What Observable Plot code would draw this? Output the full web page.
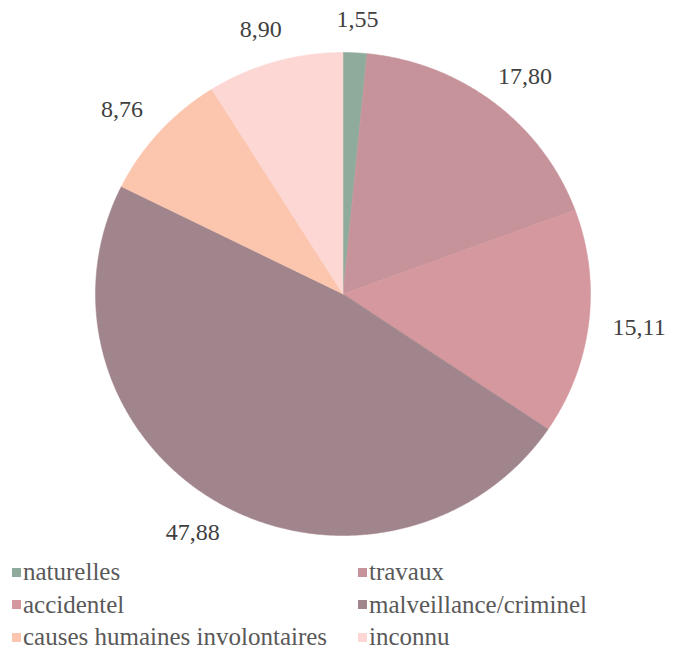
<!DOCTYPE html>
<html>
<head>
<meta charset="utf-8">
<script src="https://cdn.jsdelivr.net/npm/d3@7"></script>
<script src="https://cdn.jsdelivr.net/npm/@observablehq/plot@0.6"></script>
<style>
  html, body { margin: 0; padding: 0; background: #fff; }
  #wrap { position: relative; width: 674px; height: 656px; overflow: hidden; }
  #legend { position: absolute; left: 0; top: 556px; width: 674px;
    font-family: "Liberation Serif", Tinos, "Times New Roman", "DejaVu Serif", serif; font-size: 25px; color: #595959; }
  .item { position: absolute; height: 32px; line-height: 32px; white-space: nowrap; }
  .sw { display: inline-block; width: 9px; height: 9px; margin-right: 2px; vertical-align: middle; position: relative; top: -2px; }
</style>
</head>
<body>
<div id="wrap">
  <div id="chart"></div>
  <div id="legend"></div>
</div>
<script>
const categories = ["naturelles", "travaux", "accidentel", "malveillance/criminel", "causes humaines involontaires", "inconnu"];
const values = [1.55, 17.80, 15.11, 47.88, 8.76, 8.90];
const labels = ["1,55", "17,80", "15,11", "47,88", "8,76", "8,90"];
const colors = ["#8fab9c", "#c59399", "#d5989e", "#a1858c", "#fcc6ae", "#fcd7d4"];
const serif = '"Liberation Serif", Tinos, "Times New Roman", "DejaVu Serif", serif';

const total = d3.sum(values);
const pie = [];
let acc = 0;
values.forEach((v, i) => {
  const a0 = acc / total * 2 * Math.PI;
  acc += v;
  const a1 = acc / total * 2 * Math.PI;
  pie.push({cat: categories[i], a0, a1, mid: (a0 + a1) / 2, label: labels[i]});
});

const pts = [];
pie.forEach(s => {
  pts.push({cat: s.cat, x: 0, y: 0});
  const n = Math.max(2, Math.ceil((s.a1 - s.a0) / (Math.PI / 360)));
  for (let k = 0; k <= n; k++) {
    const a = s.a0 + (s.a1 - s.a0) * k / n;
    pts.push({cat: s.cat, x: Math.sin(a), y: Math.cos(a)});
  }
  pts.push({cat: s.cat, x: 0, y: 0});
});

const lab = pie.map(s => ({label: s.label, x: 1.205 * Math.sin(s.mid), y: 1.14 * Math.cos(s.mid)}));

const chart = Plot.plot({
  width: 674,
  height: 556,
  margin: 0,
  x: {domain: [-1, 1], range: [95, 590], axis: null},
  y: {domain: [-1, 1], range: [535, 52], axis: null},
  color: {domain: categories, range: colors},
  style: {background: "#fff", fontFamily: serif},
  marks: [
    Plot.line(pts, {x: "x", y: "y", z: "cat", fill: "cat", stroke: "cat", strokeWidth: 0.5, curve: "linear"}),
    Plot.text(lab, {x: "x", y: "y", text: "label", fontSize: 24, fontFamily: serif, fill: "#404040"})
  ]
});
document.getElementById("chart").appendChild(chart);

const legend = document.getElementById("legend");
const lefts = [12, 358];
categories.forEach((c, i) => {
  const d = document.createElement("div");
  d.className = "item";
  d.style.left = lefts[i % 2] + "px";
  d.style.top = (Math.floor(i / 2) * 32.5) + "px";
  const sw = document.createElement("span");
  sw.className = "sw";
  sw.style.background = colors[i];
  d.appendChild(sw);
  d.appendChild(document.createTextNode(c));
  legend.appendChild(d);
});
</script>
</body>
</html>
